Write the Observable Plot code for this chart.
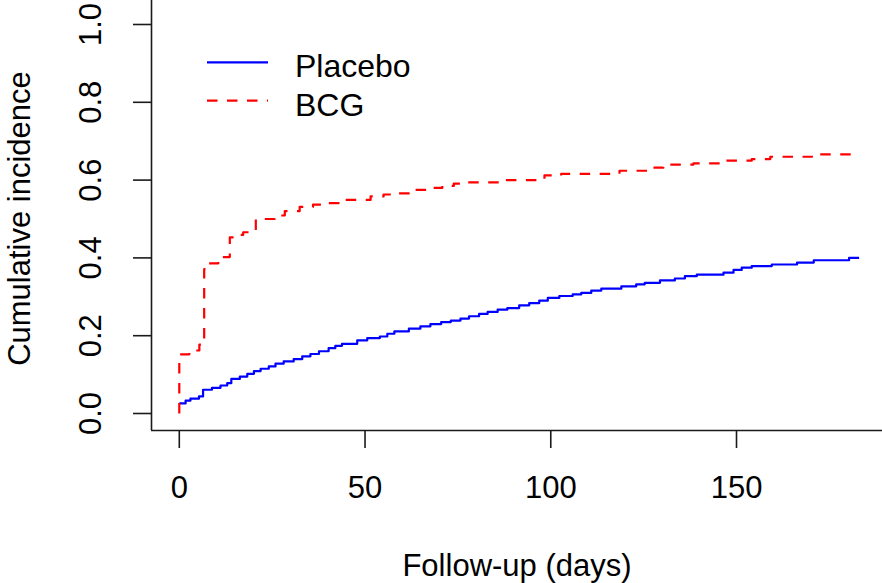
<!DOCTYPE html>
<html>
<head>
<meta charset="utf-8">
<script src="https://cdn.jsdelivr.net/npm/d3@7"></script>
<script src="https://cdn.jsdelivr.net/npm/@observablehq/plot@0.6"></script>
<style>
  html, body { margin: 0; padding: 0; background: #fff; }
  #wrap { position: relative; width: 882px; height: 583px; font-family: "Liberation Sans", Arial, sans-serif; }
  #legend { position: absolute; left: 0; top: 0; pointer-events: none; }
</style>
</head>
<body>
<div id="wrap"></div>
<script>
// ---- data ----
const placeboDays = [0, 1.7, 3.0, 5.3, 6.4, 8.8, 11.1, 12.9, 14.0, 16.3, 18.3, 20.1, 21.9, 24.1, 25.9, 28.1, 30.8, 33.1, 35.3, 37.6, 40.2, 42.0, 43.8, 47.9, 50.6, 54.0, 56.0, 57.9, 61.8, 64.9, 67.6, 70.5, 73.1, 75.7, 78.0, 80.7, 83.0, 85.7, 88.3, 91.5, 94.2, 96.9, 99.2, 102.3, 105.9, 108.2, 110.9, 113.6, 119.0, 123.0, 125.3, 129.4, 133.4, 136.1, 139.3, 146.5, 149.2, 151.4, 154.1, 159.5, 166.3, 170.8, 180.3, 183.0];
const placeboInc  = [0.026, 0.033, 0.038, 0.044, 0.061, 0.066, 0.072, 0.078, 0.089, 0.095, 0.102, 0.109, 0.115, 0.121, 0.128, 0.134, 0.140, 0.147, 0.153, 0.160, 0.168, 0.174, 0.179, 0.188, 0.194, 0.198, 0.205, 0.211, 0.218, 0.224, 0.230, 0.235, 0.239, 0.244, 0.250, 0.256, 0.261, 0.267, 0.271, 0.278, 0.284, 0.290, 0.297, 0.302, 0.306, 0.310, 0.316, 0.321, 0.327, 0.332, 0.336, 0.342, 0.347, 0.353, 0.357, 0.362, 0.369, 0.375, 0.379, 0.383, 0.388, 0.394, 0.400, 0.400];

const bcgDays = [0, 0, 2.7, 5.4, 6.7, 7.8, 10.5, 13.6, 14.9, 17.2, 20.6, 25.7, 28.4, 32.4, 36.0, 39.2, 42.9, 51.5, 55.0, 58.2, 63.6, 66.7, 70.8, 73.9, 77.5, 86.1, 98.3, 102.8, 118.5, 126.2, 130.3, 138.4, 145.9, 154.1, 159.1, 170.3, 182.0];
const bcgInc  = [0, 0.152, 0.162, 0.177, 0.371, 0.386, 0.402, 0.453, 0.459, 0.466, 0.500, 0.509, 0.520, 0.531, 0.537, 0.541, 0.549, 0.558, 0.563, 0.566, 0.575, 0.580, 0.585, 0.591, 0.594, 0.600, 0.612, 0.616, 0.624, 0.632, 0.640, 0.643, 0.650, 0.654, 0.660, 0.666, 0.666];

const xTicks = [0, 50, 100, 150];
const yTicks = [0, 0.2, 0.4, 0.6, 0.8, 1.0];
const seriesNames = ["Placebo", "BCG"];
const seriesColors = ["#0000FF", "#FF0000"];
const xTitle = "Follow-up (days)";
const yTitle = "Cumulative incidence";

// ---- build tables ----
const placebo = placeboDays.map((d, i) => ({day: d, inc: placeboInc[i]}));
const bcg = bcgDays.map((d, i) => ({day: d, inc: bcgInc[i]}));

const xDomain = [-7.48, 189.3];
const yDomain = [-0.0437, 1.0617];
const FONT = "Liberation Sans, Arial, sans-serif";
const FS = 31;
const LFS = 32;

const chart = Plot.plot({
  width: 882,
  height: 583,
  marginLeft: 151,
  marginRight: 0,
  marginTop: 0,
  marginBottom: 153,
  style: {fontFamily: FONT, fontSize: FS + "px", color: "#000", background: "#fff", overflow: "visible"},
  x: {domain: xDomain, axis: null},
  y: {domain: yDomain, axis: null},
  marks: [
    // L-shaped box
    Plot.ruleY([yDomain[0]], {stroke: "#1a1a1a", strokeWidth: 1.6}),
    Plot.ruleX([xDomain[0]], {stroke: "#1a1a1a", strokeWidth: 1.6}),
    // ticks
    Plot.axisX({ticks: xTicks, tickSize: 18, tickFormat: () => "", label: null, stroke: "#1a1a1a", strokeWidth: 1.6}),
    Plot.axisY({ticks: yTicks, tickSize: 18, tickFormat: () => "", label: null, stroke: "#1a1a1a", strokeWidth: 1.6}),
    // tick labels
    Plot.text(xTicks, {x: d => d, frameAnchor: "bottom", lineAnchor: "middle", textAnchor: "middle", dy: 58, text: d => String(d), fontSize: FS, fill: "#000"}),
    Plot.text(yTicks, {y: d => d, frameAnchor: "left", lineAnchor: "middle", textAnchor: "middle", dx: -60, rotate: -90, text: d => d.toFixed(1), fontSize: FS, fill: "#000"}),
    // axis titles
    Plot.text([xTitle], {frameAnchor: "bottom", lineAnchor: "middle", textAnchor: "middle", dy: 136, text: d => d, fontSize: FS, fill: "#000"}),
    Plot.text([yTitle], {frameAnchor: "left", lineAnchor: "middle", textAnchor: "middle", dx: -131, dy: 3, rotate: -90, text: d => d, fontSize: FS, fill: "#000"}),
    // curves
    Plot.line(placebo, {x: "day", y: "inc", curve: "step-after", stroke: seriesColors[0], strokeWidth: 2.2, strokeLinecap: "butt"}),
    Plot.line(bcg, {x: "day", y: "inc", curve: "step-after", stroke: seriesColors[1], strokeWidth: 2.2, strokeDasharray: "10.5,9.5", strokeLinecap: "butt"})
  ]
});

const wrap = document.getElementById("wrap");
wrap.appendChild(chart);

// ---- legend (inside plot area, top-left) ----
const ns = "http://www.w3.org/2000/svg";
const leg = document.createElementNS(ns, "svg");
leg.setAttribute("id", "legend");
leg.setAttribute("width", 882);
leg.setAttribute("height", 583);
const rowY = [62.3, 100.7];
seriesNames.forEach((name, i) => {
  const ln = document.createElementNS(ns, "line");
  ln.setAttribute("x1", 207); ln.setAttribute("x2", 268);
  ln.setAttribute("y1", rowY[i]); ln.setAttribute("y2", rowY[i]);
  ln.setAttribute("stroke", seriesColors[i]);
  ln.setAttribute("stroke-width", 2.2);
  if (i === 1) ln.setAttribute("stroke-dasharray", "10.5,9.5");
  leg.appendChild(ln);
  const tx = document.createElementNS(ns, "text");
  tx.setAttribute("x", 295);
  tx.setAttribute("y", rowY[i] + 15);
  tx.setAttribute("font-family", FONT);
  tx.setAttribute("font-size", LFS);
  tx.setAttribute("fill", "#000");
  tx.textContent = name;
  leg.appendChild(tx);
});
wrap.appendChild(leg);
</script>
</body>
</html>
